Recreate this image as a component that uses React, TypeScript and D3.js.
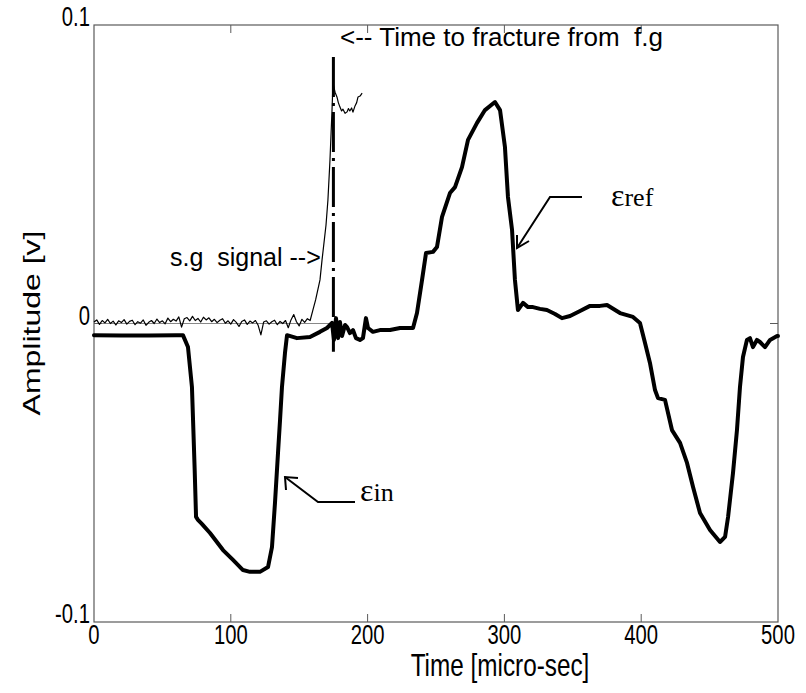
import * as d3 from 'd3';

// time axis in micro-sec, amplitudes in mV (axis is in V)
var X_TICKS = [0, 100, 200, 300, 400, 500];
var Y_TICKS = [-0.1, 0, 0.1];
var Y_TICK_LABELS = ['-0.1', '0', '0.1'];

// thick bar signal (incident + reflected)
var barT = [0, 20, 40, 60, 65, 68.7, 71.6, 72.4, 73.6, 74.6, 76, 79, 84.8, 94.3, 101.6, 108.9, 114, 121.3, 127.2, 130.1, 132.3, 134.5, 136, 137.4, 139.6, 141.1, 148.4, 157.9, 165.2, 170.3, 174, 175.4, 176.9, 178.4, 179.8, 181.3, 183.5, 185, 187.1, 189.3, 191.5, 194.4, 196.6, 198.8, 200.3, 203.9, 209, 216.4, 223.7, 233.2, 236.1, 239.8, 242.7, 247.8, 250.7, 254.4, 260.2, 263.9, 269, 273.4, 280, 285.8, 293.1, 296.8, 300.4, 302.6, 305.6, 307.7, 309.9, 313.6, 317.3, 320.9, 326, 331.1, 337, 342.1, 348, 355.3, 362.6, 369.9, 375, 384.5, 394, 399.1, 402.8, 406.4, 410.1, 412.3, 417.4, 422.5, 428.4, 433.5, 437.9, 443, 450.3, 457.6, 461.3, 463.5, 467.1, 470, 472.2, 474.4, 477.3, 479.5, 481.7, 484.6, 486.8, 490.5, 494.2, 499.3, 500];
var barV = [-3.9, -4.0, -4.0, -3.9, -3.9, -7.9, -21.3, -32.3, -49.1, -64.8, -65.8, -67.2, -70.2, -75.9, -79.2, -82.6, -83.2, -83.2, -81.6, -74.9, -60.1, -43.4, -32.3, -21.3, -9.9, -3.9, -4.9, -4.5, -2.8, -1.5, 0.2, -5.5, 1.8, -4.9, 0.5, -4.2, -0.5, -1.2, -3.2, -2.2, -4.9, -5.5, -4.9, 1.8, -1.5, -2.8, -2.2, -2.2, -1.5, -1.5, 3.5, 14.6, 23.6, 24.0, 25.6, 35.7, 43.7, 45.7, 52.4, 61.5, 67.2, 71.5, 74.2, 71.5, 59.1, 42.4, 31.3, 14.6, 4.5, 6.9, 5.5, 5.5, 4.9, 4.5, 3.2, 1.8, 2.5, 4.2, 5.9, 5.9, 6.2, 3.5, 2.2, 0.2, -6.5, -13.2, -22.3, -25.0, -25.6, -35.7, -40.0, -46.7, -54.8, -63.5, -69.2, -73.2, -71.5, -64.8, -50.1, -35.7, -21.3, -11.2, -5.5, -4.9, -7.9, -5.5, -6.2, -7.9, -5.5, -4.2, -4.2];

// thin strain-gauge signal
var sgT = [0, 2, 4, 6, 8, 10, 12, 14, 16, 18, 20, 22, 24, 26, 28, 30, 32, 34, 36, 38, 40, 42, 44, 46, 48, 50, 52, 54, 56, 58, 60, 62, 64, 66, 68, 70, 72, 74, 76, 78, 80, 82, 84, 86, 88, 90, 92, 94, 96, 98, 100, 102, 104, 106, 108, 110, 112, 114, 116, 118, 120, 122, 124, 126, 128, 130, 132, 134, 136, 138, 140, 142, 144, 146, 148, 150, 152, 154, 156, 158, 160, 162, 165.2, 166.7, 169.6, 171, 172.5, 174, 174.7, 176.2, 177.6, 178.6, 179.8, 181, 182, 183.5, 185, 186, 187, 188.3, 189.3, 190.8, 192, 193, 194.5, 196];
var sgV = [0.5, 1.2, -0.3, 1.0, 0.2, 1.4, 0.0, 0.8, -0.5, 0.9, 0.3, 1.3, -0.2, 0.7, 1.1, -0.4, 0.6, 0.1, 1.2, -0.6, 0.4, 1.0, 0.0, 1.5, 0.3, 0.9, -0.1, 1.8, 0.6, 1.4, 0.8, 2.2, -1.2, 1.6, 2.0, 0.9, 2.4, 1.0, 1.7, 0.5, 2.1, 1.2, 1.9, 0.6, 1.4, 0.3, 1.1, 1.6, 0.1, 0.9, -0.2, 1.3, 0.4, -1.0, 0.7, 1.2, -0.3, 0.8, 0.2, 1.0, -0.6, -3.8, 0.5, 0.9, -0.2, 0.6, 1.1, -0.4, 0.7, 0.0, 1.0, -1.4, 1.2, 3.0, 0.6, -0.8, 1.4, 0.4, 1.6, 1.0, 4.5, 7.9, 14.6, 21.3, 33.0, 41.4, 54.8, 71.5, 80.6, 77.5, 75.9, 74.0, 72.5, 71.2, 71.8, 70.4, 70.9, 72.0, 71.2, 72.2, 70.8, 72.9, 74.0, 75.9, 76.2, 77.2];

var FRACTURE_T = 175;

var W = 806, H = 693;
var LEFT = 94, RIGHT = 778, TOP = 25, BOTTOM = 622;

export default function App() {
  var x = d3.scaleLinear().domain([0, 500]).range([LEFT, RIGHT]);
  var y = d3.scaleLinear().domain([-0.1, 0.1]).range([BOTTOM, TOP]);

  var line = d3.line<number>()
    .x(function (d) { return x(d[0]); })
    .y(function (d) { return y(d[1] / 1000); });

  var barPts = barT.map(function (t, i) { return [t, barV[i]]; });
  var sgPts = sgT.map(function (t, i) { return [t, sgV[i]]; });

  var axisColor = '#5a5a5a';
  var tickLen = 8;
  var sans = 'Liberation Sans, Arial, Helvetica, sans-serif';
  var serif = 'Liberation Serif, Times New Roman, serif';

  return (
    <svg width={W} height={H} style={{ position: 'absolute', left: 0, top: 0, background: '#fff' }}>
      <rect x={0} y={0} width={W} height={H} fill="#fff" />

      {/* zero reference under the gauge signal */}
      <line x1={x(0)} x2={x(FRACTURE_T)} y1={y(0)} y2={y(0)} stroke="#888" strokeWidth={1} />

      {/* box */}
      <rect x={LEFT} y={TOP} width={RIGHT - LEFT} height={BOTTOM - TOP} fill="none" stroke={axisColor} strokeWidth={1.2} />

      {X_TICKS.slice(1, -1).map(function (t) {
        return (
          <g key={'xt' + t}>
            <line x1={x(t)} x2={x(t)} y1={BOTTOM} y2={BOTTOM - tickLen} stroke={axisColor} />
            <line x1={x(t)} x2={x(t)} y1={TOP} y2={TOP + tickLen} stroke={axisColor} />
          </g>
        );
      })}
      {[0].map(function (v) {
        return (
          <g key={'yt' + v}>
            <line x1={LEFT} x2={LEFT + tickLen} y1={y(v)} y2={y(v)} stroke={axisColor} />
            <line x1={RIGHT} x2={RIGHT - tickLen} y1={y(v)} y2={y(v)} stroke={axisColor} />
          </g>
        );
      })}

      {X_TICKS.map(function (t) {
        return (
          <text key={'xl' + t} transform={'translate(' + x(t) + ',' + (BOTTOM + 22) + ') scale(0.75,1)'}
            textAnchor="middle" fontFamily={sans} fontSize={27} fill="#000">{t}</text>
        );
      })}
      {Y_TICKS.map(function (v, i) {
        return (
          <text key={'yl' + v} transform={'translate(' + (LEFT - 4) + ',' + (y(v) + 1) + ') scale(0.75,1)'}
            textAnchor="end" fontFamily={sans} fontSize={27} fill="#000">{Y_TICK_LABELS[i]}</text>
        );
      })}

      <text transform={'translate(' + 500 + ',' + 676 + ') scale(0.76,1)'} textAnchor="middle"
        fontFamily={sans} fontSize={32} fill="#000">Time [micro-sec]</text>
      <text transform={'translate(' + 40 + ',' + 323 + ') rotate(-90) scale(1,0.76)'} textAnchor="middle"
        fontFamily={sans} fontSize={32} fill="#000">Amplitude [v]</text>

      {/* signals */}
      <path d={line(sgPts) || ''} fill="none" stroke="#000" strokeWidth={1.2} strokeLinejoin="round" />
      <path d={line(barPts) || ''} fill="none" stroke="#000" strokeWidth={4} strokeLinejoin="round" strokeLinecap="round" />

      {/* fracture time marker */}
      <line x1={x(FRACTURE_T)} x2={x(FRACTURE_T)} y1={y(0.0893)} y2={y(-0.0095)}
        stroke="#000" strokeWidth={3} strokeDasharray="40,6,3,6" />

      {/* annotations */}
      <text x={340} y={46} fontFamily={sans} fontSize={26} fill="#000">{'<-- Time to fracture from \u00a0f.g'}</text>
      <text x={170} y={266} fontFamily={sans} fontSize={25} fill="#000">{'s.g \u00a0signal -->'}</text>

      <path d="M355,502 L318,502 L285,477" fill="none" stroke="#000" strokeWidth={2} />
      <path d="M286,490 L285,477 L298,478" fill="none" stroke="#000" strokeWidth={2} />
      <text x={360} y={501} fontFamily={serif} fontSize={32} fill="#000">
        <tspan>ε</tspan><tspan fontSize={26}>in</tspan>
      </text>

      <path d="M582,197 L550,197 L517,248" fill="none" stroke="#000" strokeWidth={2} />
      <path d="M517,235 L517,248 L529,241" fill="none" stroke="#000" strokeWidth={2} />
      <text x={611} y={206} fontFamily={serif} fontSize={32} fill="#000">
        <tspan>ε</tspan><tspan fontSize={26}>ref</tspan>
      </text>
    </svg>
  );
}
